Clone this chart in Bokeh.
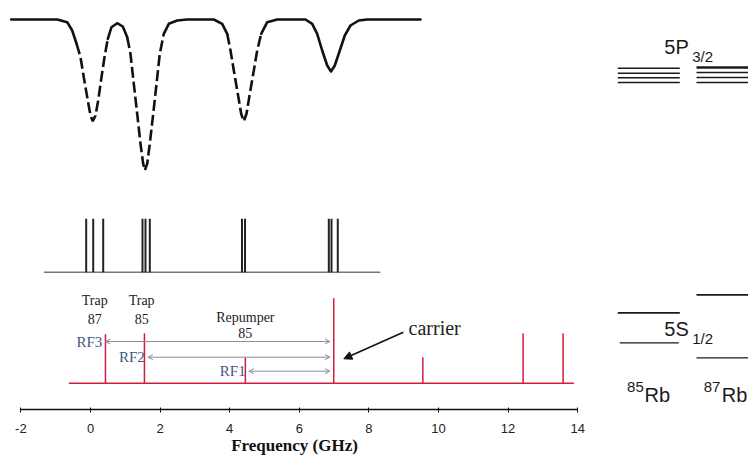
from bokeh.plotting import figure
from bokeh.layouts import row
from bokeh.models import Range1d, FixedTicker, Arrow, OpenHead, NormalHead
from bokeh.core.properties import value
from bokeh.embed import file_html
from bokeh.resources import INLINE

# ---------------- data ----------------
# absorption spectrum (frequency in GHz, signal read as vertical position, larger = deeper)
curve_freq = [-2.279, -0.957, -0.670, -0.526, -0.402, -0.287, -0.193, -0.078, 0.0, 0.066,
              0.144, 0.221, 0.316, 0.402, 0.497, 0.603, 0.767, 0.928, 1.055, 1.149,
              1.244, 1.342, 1.437, 1.514, 1.560, 1.629, 1.704, 1.802, 1.897, 1.991,
              2.106, 2.250, 2.491, 2.779, 3.543, 3.784, 3.928, 4.023, 4.118, 4.233,
              4.330, 4.405, 4.483, 4.578, 4.693, 4.790, 4.905, 5.078, 5.365, 6.178,
              6.371, 6.514, 6.658, 6.802, 6.911, 7.020, 7.164, 7.307, 7.471, 7.710,
              7.951, 9.483]
curve_signal = [19, 19, 21.7, 30, 43, 56.7, 76.7, 100, 115, 120.7,
                115, 100, 76.7, 56.7, 38.3, 26.7, 22.7, 26, 36.7, 53.3,
                83.3, 113.3, 143.3, 163.3, 170, 163.3, 143.3, 113.3, 83.3, 53.3,
                33.3, 23.3, 20, 19, 19, 23.3, 33.3, 50, 70, 93.3,
                113.3, 120.7, 113.3, 93.3, 70, 50, 33.3, 21.7, 19, 19,
                23.3, 33.3, 50, 65, 71, 65, 50, 35, 25, 20,
                19, 19]

# hyperfine transition lines (GHz)
line_freq = [-0.124, 0.078, 0.365, 1.494, 1.580, 1.704, 4.353, 4.440, 6.848, 6.925, 7.106]
line_range = [-1.34, 8.33]

# modulated laser spectrum: carrier and sidebands (GHz, height)
side_freq = [0.43, 1.55, 4.45, 6.99, 9.55, 12.43, 13.58]
side_height = [49, 50, 26, 85, 26, 50, 50]
side_range = [-0.62, 13.89]

# RF sideband spacings drawn as arrows to the carrier
rf_labels = ["RF3", "RF2", "RF1"]
rf_start = [0.43, 1.65, 4.55]
rf_end = 6.88

# annotations of the sidebands
peak_names = ["Trap", "Trap", "Repumper"]
peak_isotopes = ["87", "85", "85"]
peak_freq = [0.12, 1.47, 4.45]

x_ticks = [-2, 0, 2, 4, 6, 8, 10, 12, 14]

# ---------------- layout ----------------
PX0, PXG = 90.0, 34.8
W1, W2, H, FH = 588, 160, 459, 409

p = figure(width=W1, height=H, output_backend="svg", toolbar_location=None,
           x_range=Range1d(-PX0 / PXG, (W1 - PX0) / PXG), y_range=Range1d(FH, 0),
           min_border_left=0, min_border_right=0, min_border_top=0,
           min_border_bottom=H - FH, y_axis_location=None)
p.xgrid.visible = False
p.ygrid.visible = False
p.outline_line_color = None
p.background_fill_color = "white"
p.border_fill_color = "white"

ax = p.xaxis[0]
ax.ticker = FixedTicker(ticks=x_ticks)
ax.major_label_overrides = {-2: "-2"}
ax.bounds = (-2, 14)
ax.axis_line_color = "#111111"
ax.axis_line_width = 1.5
ax.major_tick_line_color = "#111111"
ax.major_tick_in = 2
ax.major_tick_out = 3
ax.minor_tick_line_color = None
ax.major_label_text_font = "Liberation Sans"
ax.major_label_text_font_size = "13px"
ax.major_label_text_color = "#222222"
ax.major_label_standoff = 11
ax.axis_label = "Frequency (GHz)"
ax.axis_label_text_font = "Liberation Serif"
ax.axis_label_text_font_style = "bold"
ax.axis_label_text_font_size = "17px"
ax.axis_label_text_color = "#111111"
ax.axis_label_standoff = 0

# absorption curve: solid near the top, dashed in the deep parts of the first three dips
DASH_LEVEL = 45
solid_xs, solid_ys, dash_xs, dash_ys = [], [], [], []
cur_kind, cx, cy = None, None, None
for i in range(len(curve_freq) - 1):
    x1, y1, x2, y2 = curve_freq[i], curve_signal[i], curve_freq[i + 1], curve_signal[i + 1]
    kind = "d" if (x2 < 6 and max(y1, y2) > DASH_LEVEL) else "s"
    if kind != cur_kind:
        if cx is not None:
            (dash_xs if cur_kind == "d" else solid_xs).append(cx)
            (dash_ys if cur_kind == "d" else solid_ys).append(cy)
        cx, cy, cur_kind = [x1], [y1], kind
    cx.append(x2)
    cy.append(y2)
(dash_xs if cur_kind == "d" else solid_xs).append(cx)
(dash_ys if cur_kind == "d" else solid_ys).append(cy)

p.multi_line(xs=solid_xs, ys=solid_ys, line_color="#111111", line_width=2.6,
             line_join="round", line_cap="round")
p.multi_line(xs=dash_xs, ys=dash_ys, line_color="#111111", line_width=2.6,
             line_dash="11 4")

# hyperfine lines
LINE_BASE, LINE_TOP = 271.7, 218.3
p.segment(x0=line_range[0], y0=LINE_BASE, x1=line_range[1], y1=LINE_BASE,
          line_color="#777777", line_width=1.5)
p.segment(x0=line_freq, y0=LINE_BASE, x1=line_freq, y1=LINE_TOP,
          line_color="#222222", line_width=2)

# laser spectrum
RED = "#d21c3e"
SIDE_BASE = 382.7
p.segment(x0=side_range[0], y0=SIDE_BASE, x1=side_range[1], y1=SIDE_BASE,
          line_color=RED, line_width=1.5)
p.segment(x0=side_freq, y0=SIDE_BASE, x1=side_freq,
          y1=[SIDE_BASE - h for h in side_height], line_color=RED, line_width=1.5)

# RF arrows
rf_y = [341, 356.7, 370.7]
for lab, xs, yy in zip(rf_labels, rf_start, rf_y):
    p.add_layout(Arrow(x_start=xs, y_start=yy, x_end=rf_end, y_end=yy,
                       line_color="#8a8f99", line_width=1,
                       start=OpenHead(size=5, line_color="#8a8f99", line_width=1),
                       end=OpenHead(size=5, line_color="#8a8f99", line_width=1)))
p.text(x=[s - 0.09 for s in rf_start], y=rf_y, text=rf_labels, text_align="right",
       text_baseline="middle", text_font=value("Liberation Serif"),
       text_font_size="15px", text_color="#46577f")

# peak names
p.text(x=peak_freq, y=[300, 300, 316.7], text=peak_names, text_align="center",
       text_baseline="middle", text_font=value("Liberation Serif"),
       text_font_size="14px", text_color="#222222")
p.text(x=peak_freq, y=[318, 318, 332], text=peak_isotopes, text_align="center",
       text_baseline="middle", text_font=value("Liberation Serif"),
       text_font_size="14px", text_color="#222222")

# carrier annotation
p.add_layout(Arrow(x_start=8.99, y_start=331.7, x_end=7.28, y_end=358.3,
                   line_color="#111111", line_width=1.5,
                   end=NormalHead(size=8, fill_color="#111111", line_color="#111111")))
p.text(x=[9.14], y=[327], text=["carrier"], text_align="left", text_baseline="middle",
       text_font=value("Liberation Serif"), text_font_size="20px", text_color="#222222")

# ---------------- energy level diagram (85Rb left, 87Rb right) ----------------
q = figure(width=W2, height=H, output_backend="svg", toolbar_location=None,
           x_range=Range1d((W1 - PX0) / PXG, (W1 + W2 - PX0) / PXG), y_range=Range1d(FH, 0),
           min_border_left=0, min_border_right=0, min_border_top=0,
           min_border_bottom=H - FH, x_axis_location=None, y_axis_location=None)
q.xgrid.visible = False
q.ygrid.visible = False
q.outline_line_color = None
q.background_fill_color = "white"
q.border_fill_color = "white"

lvl_x0 = [15.152, 15.152, 15.152, 15.152, 17.414, 17.414, 17.414, 17.414,
          15.152, 15.21, 17.414, 17.414]
lvl_x1 = [16.934, 16.934, 16.934, 16.934, 19.2, 19.2, 19.2, 19.2,
          16.934, 16.905, 19.2, 19.2]
lvl_y = [67.7, 72.7, 77.3, 82, 67, 72, 77, 82, 312.3, 342.3, 294.3, 357.3]
lvl_w = [1.5, 1.5, 1.5, 1.5, 2.5, 1.5, 1.5, 1.5, 1.8, 1.3, 1.8, 1.3]
q.segment(x0=lvl_x0, y0=lvl_y, x1=lvl_x1, y1=lvl_y, line_color="#1a1a1a", line_width=lvl_w)

big = dict(text_font=value("Liberation Sans"), text_font_size="20px",
           text_color="#1a1a1a", text_baseline="middle", text_align="left")
small = dict(text_font=value("Liberation Sans"), text_font_size="15px",
             text_color="#1a1a1a", text_baseline="middle", text_align="left")
q.text(x=[16.49, 16.49, 15.92, 18.14], y=[46, 328.3, 394, 394],
       text=["5P", "5S", "Rb", "Rb"], **big)
q.text(x=[17.29, 17.29, 15.42, 17.62], y=[56, 338, 386, 386],
       text=["3/2", "1/2", "85", "87"], **small)

open("out.html", "w").write(file_html(row(p, q), INLINE))
